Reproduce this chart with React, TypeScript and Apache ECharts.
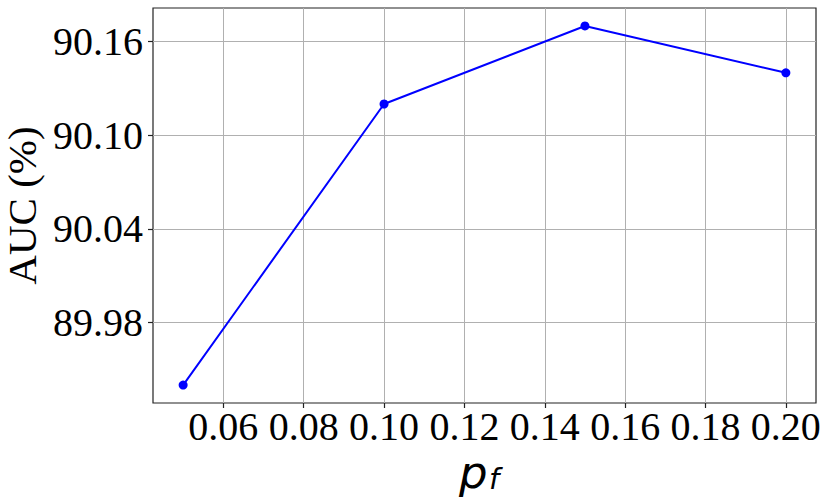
import React, { useEffect, useRef } from "react";
import * as echarts from "echarts";

const pfValues = [0.05, 0.1, 0.15, 0.2];
const aucValues = [89.94, 90.12, 90.17, 90.14];
const xTicks = [0.06, 0.08, 0.1, 0.12, 0.14, 0.16, 0.18, 0.2];
const yTicks = [89.98, 90.04, 90.1, 90.16];
const yLabel = "AUC (%)";

export default function App() {
  const ref = useRef<HTMLDivElement>(null);
  useEffect(() => {
    if (!ref.current) return;
    const chart = echarts.init(ref.current, null, { renderer: "svg" });
    const serif = "'Liberation Serif', 'Times New Roman', serif";
    chart.setOption({
      animation: false,
      backgroundColor: "#ffffff",
      grid: {
        left: 153,
        top: 8,
        right: 15,
        bottom: 98,
        containLabel: false,
        outerBoundsMode: "none",
        show: true,
        borderColor: "#222222",
        borderWidth: 1.2,
        backgroundColor: "transparent",
      },
      xAxis: {
        type: "value",
        min: 0.0425,
        max: 0.2075,
        axisLine: { show: false },
        axisTick: {
          show: true,
          length: 5,
          customValues: xTicks,
          lineStyle: { color: "#222222", width: 1.2 },
        },
        axisLabel: {
          customValues: xTicks,
          margin: 3,
          color: "#000000",
          fontFamily: serif,
          fontSize: 40,
          formatter: (v: number) => v.toFixed(2),
        },
        splitLine: { show: true, lineStyle: { color: "#b0b0b0", width: 1 } },
      },
      yAxis: {
        type: "value",
        min: 89.9285,
        max: 90.1815,
        name: yLabel,
        nameLocation: "middle",
        nameGap: 106,
        nameTextStyle: { fontFamily: serif, fontSize: 41, color: "#000000" },
        axisLine: { show: false },
        axisTick: {
          show: true,
          length: 5,
          customValues: yTicks,
          lineStyle: { color: "#222222", width: 1.2 },
        },
        axisLabel: {
          customValues: yTicks,
          margin: 10,
          color: "#000000",
          fontFamily: serif,
          fontSize: 40,
          formatter: (v: number) => v.toFixed(2),
        },
        splitLine: { show: true, lineStyle: { color: "#b0b0b0", width: 1 } },
      },
      graphic: [
        {
          type: "text",
          left: 459,
          top: 450,
          style: {
            text: "p",
            fontFamily: "'DejaVu Sans', sans-serif",
            fontStyle: "italic",
            fontSize: 45,
            lineHeight: 30,
            fill: "#000000",
          },
        },
        {
          type: "text",
          left: 489,
          top: 464,
          style: {
            text: "f",
            fontFamily: "'DejaVu Sans', sans-serif",
            fontStyle: "italic",
            fontSize: 29,
            fill: "#000000",
          },
        },
      ],
      series: [
        {
          type: "line",
          data: pfValues.map((x, i) => [x, aucValues[i]]),
          symbol: "circle",
          symbolSize: 9,
          showSymbol: true,
          lineStyle: { color: "#0000ff", width: 2 },
          itemStyle: { color: "#0000ff" },
          z: 5,
        },
      ],
    });
    return () => chart.dispose();
  }, []);
  return (
    <div
      ref={ref}
      style={{ position: "fixed", left: 0, top: 0, width: 831, height: 501, background: "#fff" }}
    />
  );
}
